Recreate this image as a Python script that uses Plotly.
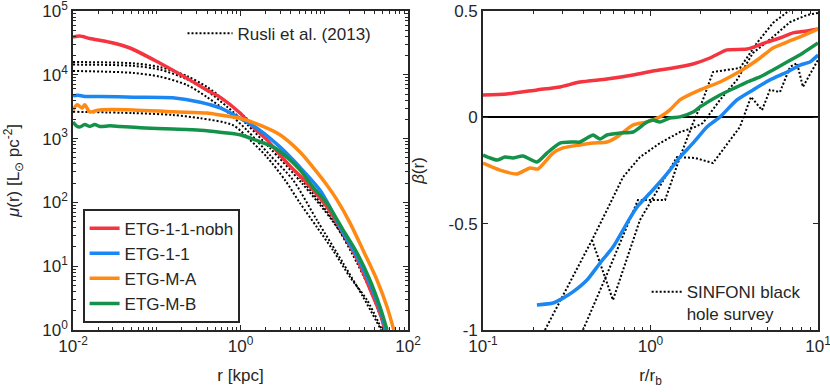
import numpy as np
import plotly.graph_objects as go

# values, stored as log10 (x) and log10 / beta (y)

# ---- left panel: surface brightness mu(r) [L_sun pc^-2] vs r [kpc]
nobh_lr = [-2.0, -1.92, -1.80, -1.56, -1.32, -0.96, -0.66, -0.40, -0.245, -0.006, 0.15, 0.316,
           0.555, 0.794, 1.033, 1.224, 1.39, 1.546, 1.666, 1.725]
nobh_lmu = [4.59, 4.61, 4.57, 4.51, 4.42, 4.18, 3.96, 3.76, 3.65, 3.40, 3.18, 2.98,
            2.62, 2.30, 1.93, 1.52, 1.12, 0.64, 0.26, 0.0]

etg11_lr = [-2.0, -1.94, -1.86, -1.68, -1.28, -0.81, -0.48, -0.245, -0.006, 0.233, 0.47, 0.71,
            0.95, 1.07, 1.224, 1.39, 1.546, 1.666, 1.737]
etg11_lmu = [3.67, 3.68, 3.66, 3.66, 3.65, 3.64, 3.57, 3.48, 3.32, 3.13, 2.87, 2.55,
             2.19, 1.92, 1.53, 1.16, 0.72, 0.32, 0.0]

etgma_lr = [-2.0, -1.95, -1.89, -1.86, -1.80, -1.68, -1.28, -0.81, -0.40, -0.245, -0.006, 0.233,
            0.47, 0.71, 0.866, 1.033, 1.152, 1.307, 1.463, 1.63, 1.75, 1.83]
etgma_lmu = [3.45, 3.53, 3.48, 3.53, 3.42, 3.45, 3.45, 3.42, 3.40, 3.37, 3.32, 3.21,
             3.06, 2.79, 2.55, 2.27, 2.04, 1.68, 1.25, 0.78, 0.36, 0.0]

etgmb_lr = [-2.0, -1.96, -1.92, -1.86, -1.80, -1.74, -1.68, -1.56, -1.44, -1.2, -0.81, -0.48,
            -0.245, -0.006, 0.233, 0.388, 0.555, 0.71, 0.866, 1.03, 1.224, 1.39, 1.546, 1.666, 1.75]
etgmb_lmu = [3.26, 3.20, 3.18, 3.22, 3.19, 3.22, 3.19, 3.20, 3.19, 3.17, 3.15, 3.13,
             3.10, 3.06, 2.95, 2.87, 2.71, 2.51, 2.24, 1.99, 1.57, 1.21, 0.78, 0.36, 0.0]

# Rusli et al. (2013) profiles
rusli_lr = [
    [-2.0, -1.284, -0.961, -0.639, -0.400, -0.161, 0.078, 0.352, 0.734, 1.104, 1.391, 1.582, 1.725],
    [-2.0, -1.284, -0.961, -0.639, -0.400, -0.161, 0.078, 0.352, 0.627, 0.913, 1.224, 1.463, 1.678],
    [-2.0, -1.284, -0.806, -0.484, -0.090, 0.113, 0.316, 0.531, 0.710, 0.913, 1.104, 1.307, 1.510, 1.690],
    [-2.0, -1.284, -0.961, -0.639, -0.400, -0.161, 0.078, 0.352, 0.734, 1.104, 1.391, 1.582, 1.730],
]
rusli_lmu = [
    [4.20, 4.18, 4.12, 3.98, 3.81, 3.57, 3.31, 2.93, 2.35, 1.72, 1.05, 0.52, 0.0],
    [4.06, 4.03, 3.97, 3.84, 3.65, 3.42, 3.13, 2.74, 2.35, 1.72, 1.05, 0.52, 0.0],
    [3.42, 3.40, 3.37, 3.32, 3.21, 2.98, 2.71, 2.35, 1.99, 1.61, 1.25, 0.83, 0.47, 0.0],
    [4.16, 4.14, 4.08, 3.93, 3.75, 3.50, 3.22, 2.85, 2.30, 1.70, 1.12, 0.62, 0.0],
]

# ---- right panel: anisotropy beta(r) vs r / r_b
nobh_lrb = [-1.0, -0.857, -0.678, -0.540, -0.421, -0.260, -0.104, 0.015, 0.134, 0.254, 0.355, 0.457,
            0.576, 0.696, 0.773, 0.851, 0.934, 1.0]
nobh_beta = [0.105, 0.110, 0.129, 0.143, 0.166, 0.180, 0.199, 0.218, 0.232, 0.251, 0.279, 0.317,
             0.321, 0.354, 0.373, 0.397, 0.406, 0.415]

etg11_lrb = [-0.678, -0.582, -0.522, -0.463, -0.379, -0.301, -0.224, -0.140, -0.081, -0.003, 0.057, 0.116,
             0.176, 0.254, 0.337, 0.415, 0.516, 0.612, 0.713, 0.815, 0.893, 0.952, 1.0]
etg11_beta = [-0.882, -0.873, -0.850, -0.821, -0.765, -0.685, -0.610, -0.497, -0.422, -0.356, -0.304, -0.248,
              -0.187, -0.121, -0.045, 0.002, 0.082, 0.129, 0.176, 0.213, 0.246, 0.260, 0.293]

etgma_lrb = [-1.0, -0.899, -0.797, -0.719, -0.672, -0.582, -0.522, -0.421, -0.343, -0.260, -0.200, -0.104,
             -0.021, 0.057, 0.116, 0.176, 0.296, 0.415, 0.516, 0.576, 0.654, 0.731, 0.815, 0.893, 1.0]
etgma_beta = [-0.215, -0.248, -0.266, -0.238, -0.243, -0.168, -0.144, -0.130, -0.121, -0.116, -0.092, -0.036,
              -0.022, 0.002, 0.035, 0.082, 0.129, 0.166, 0.208, 0.237, 0.279, 0.326, 0.354, 0.378, 0.415]

etgmb_lrb = [-1.0, -0.958, -0.916, -0.869, -0.821, -0.761, -0.678, -0.618, -0.540, -0.463, -0.421, -0.379,
             -0.343, -0.301, -0.260, -0.182, -0.104, -0.021, 0.015, 0.057, 0.116, 0.176, 0.254, 0.296,
             0.415, 0.516, 0.576, 0.654, 0.731, 0.815, 0.910, 1.0]
etgmb_beta = [-0.177, -0.191, -0.201, -0.187, -0.191, -0.182, -0.210, -0.168, -0.121, -0.116, -0.116, -0.097,
              -0.083, -0.102, -0.083, -0.074, -0.069, -0.022, -0.013, -0.022, -0.003, 0.002, 0.025, 0.049,
              0.105, 0.143, 0.166, 0.190, 0.223, 0.260, 0.303, 0.350]

# SINFONI black hole survey
sinfoni_lrb = [
    [-0.630, -0.481, -0.349, -0.260, -0.164, -0.063, 0.057, 0.176, 0.254, 0.313, 0.415, 0.516,
     0.612, 0.731, 0.833, 0.934, 1.0],
    [-0.403, -0.254, -0.075, 0.087, 0.176, 0.254, 0.313, 0.373, 0.534, 0.636, 0.731, 0.833],
    [-0.349, -0.224, -0.063, 0.057, 0.158, 0.266, 0.373, 0.534, 0.600, 0.666, 0.713, 0.773,
     0.833, 0.875, 0.910, 1.0],
]
sinfoni_beta = [
    [-1.0, -0.779, -0.577, -0.436, -0.281, -0.187, -0.121, -0.069, -0.050, -0.027, 0.082, 0.176,
     0.303, 0.378, 0.448, 0.481, 0.491],
    [-1.0, -0.727, -0.389, -0.389, -0.187, -0.027, 0.082, 0.213, 0.232, 0.350, 0.444, 0.505],
    [-0.577, -0.859, -0.483, -0.323, -0.187, -0.191, -0.215, -0.045, 0.096, 0.034, 0.129, 0.119,
     0.237, 0.255, 0.143, 0.270],
]

names = ['ETG-1-1-nobh', 'ETG-1-1', 'ETG-M-A', 'ETG-M-B']
colors = ['#f4343f', '#1b87f2', '#fe8a14', '#15924a']
left_sets = [(nobh_lr, nobh_lmu), (etg11_lr, etg11_lmu), (etgma_lr, etgma_lmu), (etgmb_lr, etgmb_lmu)]
right_sets = [(nobh_lrb, nobh_beta), (etg11_lrb, etg11_beta), (etgma_lrb, etgma_beta), (etgmb_lrb, etgmb_beta)]

dotted = dict(color='black', width=2, dash='2px,2px')

fig = go.Figure()

for i, (lr, lmu) in enumerate(zip(rusli_lr, rusli_lmu)):
    fig.add_trace(go.Scatter(
        x=10 ** np.array(lr), y=10 ** np.array(lmu), mode='lines',
        line=dict(dotted, shape='spline', smoothing=0.8),
        name='Rusli et al. (2013)', legend='legend2', showlegend=(i == 0),
        xaxis='x', yaxis='y'))

for name, col, (lr, lmu) in zip(names, colors, left_sets):
    fig.add_trace(go.Scatter(
        x=10 ** np.array(lr), y=10 ** np.array(lmu), mode='lines',
        line=dict(color=col, width=3.5, shape='spline', smoothing=0.8), name=name, legend='legend',
        xaxis='x', yaxis='y'))

for i, (lrb, b) in enumerate(zip(sinfoni_lrb, sinfoni_beta)):
    fig.add_trace(go.Scatter(
        x=10 ** np.array(lrb), y=b, mode='lines', line=dotted,
        name='SINFONI black<br>hole survey', legend='legend3', showlegend=(i == 0),
        xaxis='x2', yaxis='y2'))

for name, col, (lrb, b) in zip(names, colors, right_sets):
    fig.add_trace(go.Scatter(
        x=10 ** np.array(lrb), y=b, mode='lines',
        line=dict(color=col, width=3.5, shape='spline', smoothing=0.6), name=name, showlegend=False,
        xaxis='x2', yaxis='y2'))

frame = '#262626'
font = dict(family='Liberation Sans, Arial, sans-serif', size=17, color=frame)


def ax_style(**kw):
    d = dict(showline=True, mirror='allticks', linecolor=frame, linewidth=1.6,
             ticks='inside', ticklen=5, tickcolor=frame, tickwidth=1.2,
             showgrid=False, zeroline=False, automargin=False, tickfont=font,
             ticklabeloverflow='allow')
    d.update(kw)
    return d


minor = dict(ticks='inside', ticklen=3, tickcolor=frame, dtick='D1', showgrid=False)

fig.update_layout(
    width=830, height=392,
    margin=dict(l=73, r=12, t=11, b=62),
    paper_bgcolor='white', plot_bgcolor='white',
    font=font,
    xaxis=ax_style(type='log', range=[-2, 2], domain=[0, 0.4497], anchor='y',
                   tickvals=[0.01, 1, 100],
                   ticktext=['10<sup>-2</sup>', '10<sup>0</sup>', '10<sup>2</sup>'],
                   minor=minor, title=dict(text='r [kpc]', font=font, standoff=14)),
    yaxis=ax_style(type='log', range=[0, 5], domain=[0, 1], anchor='x',
                   tickvals=[1, 10, 100, 1e3, 1e4, 1e5],
                   ticktext=['10<sup>0</sup>', '10<sup>1</sup>', '10<sup>2</sup>',
                             '10<sup>3</sup>', '10<sup>4</sup>', '10<sup>5</sup>'],
                   minor=minor,
                   title=dict(text='<i>μ</i>(r) [L<sub>⊙</sub> pc<sup>-2</sup>]', font=font, standoff=18)),
    xaxis2=ax_style(type='log', range=[-1, 1], domain=[0.5503, 1], anchor='y2',
                    tickvals=[0.1, 1, 10],
                    ticktext=['10<sup>-1</sup>', '10<sup>0</sup>', '10<sup>1</sup>'],
                    minor=minor, title=dict(text='r/r<sub>b</sub>', font=font, standoff=14)),
    yaxis2=ax_style(range=[-1, 0.5], domain=[0, 1], anchor='x2',
                    tickvals=[-1, -0.5, 0, 0.5], ticktext=['-1', '-0.5', '0', '0.5'],
                    zeroline=True, zerolinecolor='black', zerolinewidth=2,
                    title=dict(text='<i>β</i>(r)', font=font, standoff=20)),
    legend=dict(x=0.0134, y=0.022, xanchor='left', yanchor='bottom', bgcolor='white',
                bordercolor=frame, borderwidth=1.6, font=font, itemwidth=30,
                tracegroupgap=0),
    legend2=dict(x=0.147, y=0.985, xanchor='left', yanchor='top', bgcolor='rgba(0,0,0,0)',
                 borderwidth=0, font=font, itemwidth=45),
    legend3=dict(x=0.77, y=0.175, xanchor='left', yanchor='top', bgcolor='rgba(0,0,0,0)',
                 borderwidth=0, font=font, itemwidth=30, valign='top'),
)

fig.write_html('out.html', config={'displayModeBar': False},
               post_script="document.body.style.margin = '0px';")
